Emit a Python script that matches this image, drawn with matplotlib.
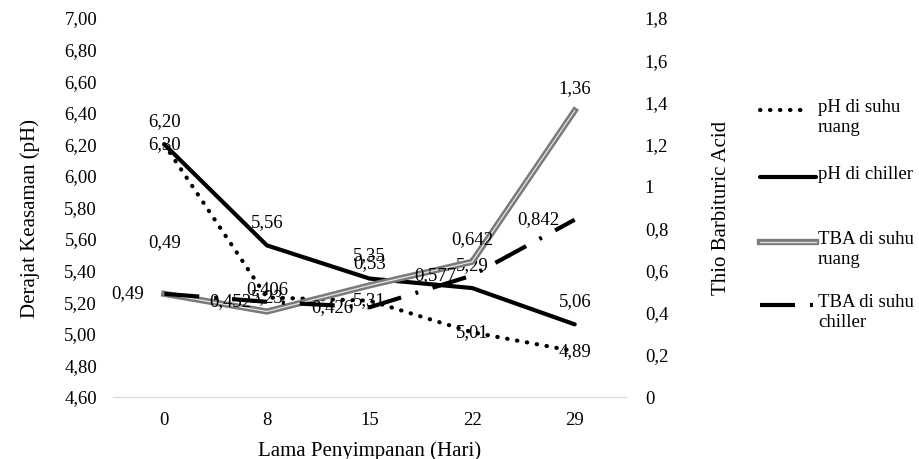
import matplotlib.pyplot as plt
from matplotlib.lines import Line2D
import matplotlib.patheffects as pe

plt.rcParams['font.family'] = 'Liberation Serif'
plt.rcParams['font.size'] = 13.5

hari = ['0', '8', '15', '22', '29']
ph_ruang = [6.20, 5.23, 5.21, 5.01, 4.89]
ph_chiller = [6.20, 5.56, 5.35, 5.29, 5.06]
tba_ruang = [0.49, 0.406, 0.53, 0.642, 1.36]
tba_chiller = [0.49, 0.452, 0.426, 0.577, 0.842]

ph_ruang_lbl = ['6,30', '5,23', '5,31', '5,01', '4,89']
ph_chiller_lbl = ['6,20', '5,56', '5,35', '5,29', '5,06']
tba_ruang_lbl = ['0,49', '0,406', '0,53', '0,642', '1,36']
tba_chiller_lbl = ['0,49', '0,452', '0,426', '0,577', '0,842']

W, H = 919, 459
fig = plt.figure(figsize=(W / 100, H / 100), dpi=100)
ax = fig.add_axes([113 / W, 1 - 397 / H, 513 / W, 379 / H])
ax2 = ax.twinx()
x = range(len(hari))

dotted = (0, (0.1, 2.3))
dashdot = (0, (8.4, 3.6, 0.7, 3.6))
gray_fx = [pe.Stroke(linewidth=4.5, foreground='#7a7a7a'), pe.Normal()]

ax.plot(x, ph_ruang, color='black', lw=3, linestyle=dotted, dash_capstyle='round', zorder=3)
ax.plot(x, ph_chiller, color='black', lw=3, solid_capstyle='round', zorder=3)
ax2.plot(x, tba_ruang, color='#e6e6e6', lw=0.9, path_effects=gray_fx, zorder=2)
ax2.plot(x, tba_chiller, color='black', lw=3, linestyle=dashdot, dash_capstyle='butt', zorder=3)

for i in x:
    ax.annotate(ph_ruang_lbl[i], (i, ph_ruang[i]), ha='center', va='center')
    ax.annotate(ph_chiller_lbl[i], (i, ph_chiller[i]), xytext=(0, 16.5),
                textcoords='offset points', ha='center', va='center')
    off = 37 if i == 0 else 16
    ax2.annotate(tba_ruang_lbl[i], (i, tba_ruang[i]), xytext=(0, off),
                 textcoords='offset points', ha='center', va='center')
    ax2.annotate(tba_chiller_lbl[i], (i, tba_chiller[i]), xytext=(-26.5, 0),
                 textcoords='offset points', ha='center', va='center')

ax.set_xlim(-0.5, 4.5)
ax.set_ylim(4.6, 7.0)
ax.set_yticks([4.6 + 0.2 * k for k in range(13)])
ax.set_yticklabels([f'{4.6 + 0.2 * k:.2f}'.replace('.', ',') for k in range(13)])
ax2.set_ylim(0, 1.8)
ax2.set_yticks([0.2 * k for k in range(10)])
ax2.set_yticklabels(['0', '0,2', '0,4', '0,6', '0,8', '1', '1,2', '1,4', '1,6', '1,8'])
ax.set_xticks(list(x))
ax.set_xticklabels(hari)

for a in (ax, ax2):
    for s in ['top', 'left', 'right']:
        a.spines[s].set_visible(False)
    a.spines['bottom'].set_color('#d9d9d9')
    a.tick_params(length=0)
ax.tick_params(axis='y', pad=11.5)
ax2.tick_params(axis='y', pad=13.5)
ax.tick_params(axis='x', pad=11)

ax.set_xlabel('Lama Penyimpanan (Hari)', fontsize=15)
ax.xaxis.set_label_coords(0.5, -0.116)
ax.set_ylabel('Derajat Keasaman (pH)', fontsize=15)
ax.yaxis.set_label_coords(-0.142, 0.472)
ax2.set_ylabel('Thio Barbituric Acid', fontsize=15)
ax2.yaxis.set_label_coords(1.168, 0.5)

# legend drawn by hand so the marker sits on the first text line
leg_y = [110, 177, 242, 305]
leg_end = [808, 816, 816, 816]
labels = ['pH di suhu\nruang', 'pH di chiller', 'TBA di suhu\nruang', 'TBA di suhu\nchiller']
styles = [
    dict(color='black', lw=3, linestyle=dotted, dash_capstyle='round'),
    dict(color='black', lw=3, solid_capstyle='round'),
    dict(color='#e6e6e6', lw=0.9, path_effects=gray_fx),
    dict(color='black', lw=3, linestyle=dashdot, dash_capstyle='butt'),
]
for yy, xe, lab, st in zip(leg_y, leg_end, labels, styles):
    yf = 1 - yy / H
    fig.add_artist(Line2D([760 / W, xe / W], [yf, yf], transform=fig.transFigure, **st))
    fig.text(818 / W, 1 - (yy - 11) / H, lab, fontsize=13.5, va='top', ha='left',
             linespacing=1.25)

fig.savefig('out.png', dpi=100)
